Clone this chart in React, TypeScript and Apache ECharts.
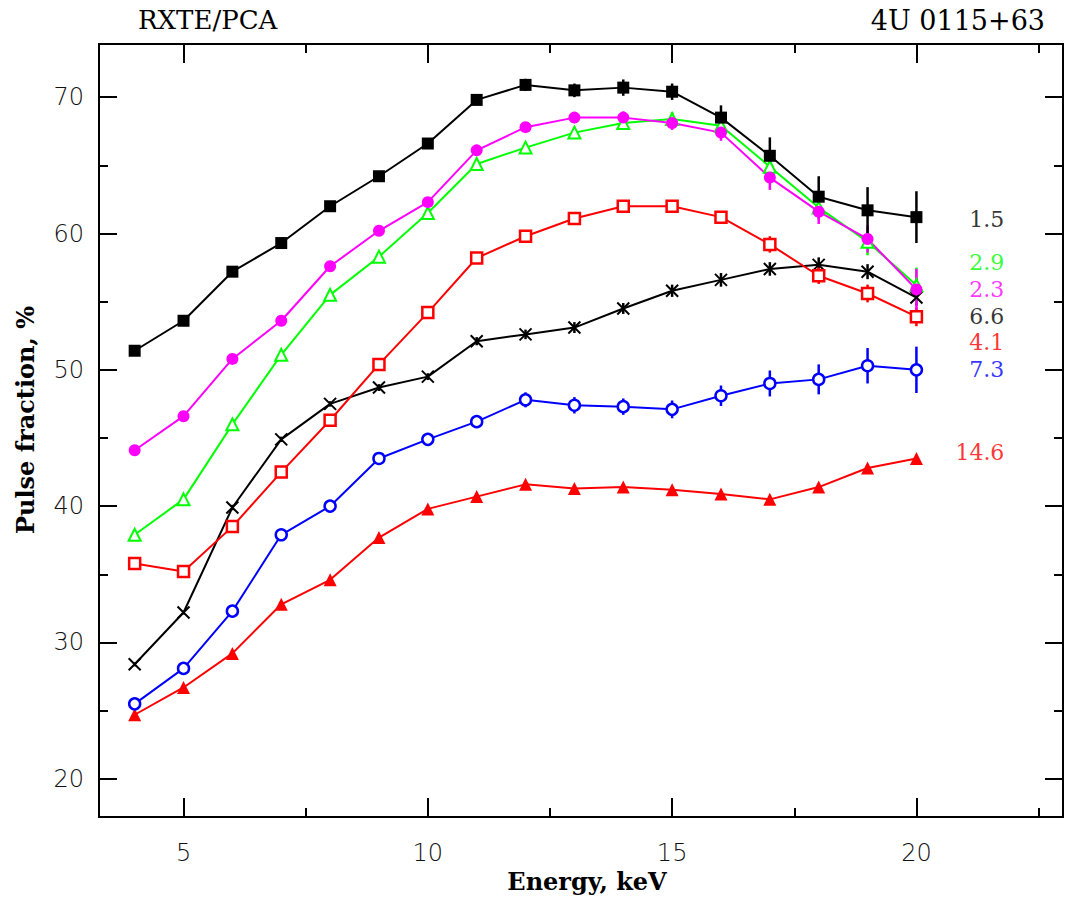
import React, { useEffect, useRef } from "react";
import * as echarts from "echarts";

const energy = [4, 5, 6, 7, 8, 9, 10, 11, 12, 13, 14, 15, 16, 17, 18, 19, 20];

const pf15 = [51.4, 53.6, 57.2, 59.3, 62.0, 64.2, 66.6, 69.8, 70.9, 70.5, 70.7, 70.4, 68.5, 65.7, 62.7, 61.7, 61.2];
const pf15Err = [0.3, 0.3, 0.3, 0.3, 0.3, 0.3, 0.35, 0.4, 0.45, 0.5, 0.6, 0.6, 0.9, 1.35, 1.5, 1.7, 1.9];

const pf23 = [44.1, 46.6, 50.8, 53.6, 57.6, 60.2, 62.3, 66.1, 67.8, 68.5, 68.5, 68.1, 67.4, 64.1, 61.6, 59.6, 55.9];
const pf23Err = [0.2, 0.2, 0.2, 0.2, 0.25, 0.25, 0.3, 0.3, 0.35, 0.4, 0.45, 0.5, 0.6, 0.9, 0.9, 1.0, 1.5];

const pf29 = [37.9, 40.5, 46.0, 51.1, 55.5, 58.3, 61.5, 65.1, 66.3, 67.4, 68.1, 68.4, 67.9, 64.9, 61.9, 59.4, 56.2];
const pf29Err = [0.2, 0.2, 0.2, 0.2, 0.25, 0.25, 0.3, 0.3, 0.35, 0.4, 0.45, 0.5, 0.6, 0.8, 0.9, 1.0, 1.3];

const pf41 = [35.8, 35.2, 38.5, 42.5, 46.3, 50.4, 54.2, 58.2, 59.8, 61.1, 62.0, 62.0, 61.2, 59.2, 56.9, 55.6, 53.9];
const pf41Err = [0.15, 0.15, 0.15, 0.2, 0.2, 0.2, 0.25, 0.25, 0.3, 0.3, 0.35, 0.35, 0.45, 0.6, 0.6, 0.65, 0.7];

const pf66 = [28.4, 32.2, 39.9, 44.9, 47.5, 48.7, 49.5, 52.1, 52.6, 53.1, 54.5, 55.8, 56.6, 57.4, 57.7, 57.2, 55.3];
const pf66Err = [0.15, 0.15, 0.2, 0.2, 0.2, 0.25, 0.25, 0.3, 0.35, 0.4, 0.4, 0.45, 0.5, 0.5, 0.55, 0.55, 0.6];

const pf73 = [25.5, 28.1, 32.3, 37.9, 40.0, 43.5, 44.9, 46.2, 47.8, 47.4, 47.3, 47.1, 48.1, 49.0, 49.3, 50.3, 50.0];
const pf73Err = [0.2, 0.25, 0.25, 0.3, 0.3, 0.3, 0.35, 0.4, 0.55, 0.6, 0.6, 0.65, 0.75, 0.95, 1.1, 1.3, 1.7];

const pf146 = [24.7, 26.7, 29.2, 32.8, 34.6, 37.7, 39.8, 40.7, 41.6, 41.3, 41.4, 41.2, 40.9, 40.5, 41.4, 42.8, 43.5];
const pf146Err = [0.1, 0.1, 0.1, 0.1, 0.1, 0.1, 0.12, 0.12, 0.15, 0.15, 0.15, 0.15, 0.15, 0.2, 0.2, 0.2, 0.2];

const labelNames = ["1.5", "2.9", "2.3", "6.6", "4.1", "7.3", "14.6"];
const labelY = [61.0, 57.9, 55.9, 53.9, 52.0, 50.0, 43.9];
const labelColors = ["#000000", "#00ff00", "#ff00ff", "#000000", "#ff0000", "#0000ff", "#ff0000"];
const LABEL_X = 21.8;

const xMajor = [5, 10, 15, 20];
const xMinor = [7.5, 12.5, 17.5, 22.5];
const yMajor = [20, 30, 40, 50, 60, 70];
const yMinor = [25, 35, 45, 55, 65];

const X_MIN = 3.27;
const X_MAX = 23;
const Y_MIN = 17.2;
const Y_MAX = 73.9;

const TICK_FONT = "'DejaVu Sans', sans-serif";
const SERIF = "'DejaVu Serif', serif";
const XSYM = "path://M0,0L10,10M10,0L0,10";

function xAxisDef(position: string, ticks: number[], len: number, labels: boolean) {
  return {
    type: "value",
    position,
    min: X_MIN,
    max: X_MAX,
    axisLine: { show: false, onZero: false },
    splitLine: { show: false },
    axisTick: { show: true, inside: true, length: len, customValues: ticks, lineStyle: { color: "#000", width: 2 } },
    axisLabel: labels
      ? { show: true, customValues: ticks, margin: 24, fontFamily: TICK_FONT, fontWeight: 200, fontSize: 24, color: "#111" }
      : { show: false },
  };
}

function yAxisDef(position: string, ticks: number[], len: number, labels: boolean) {
  return {
    type: "value",
    position,
    min: Y_MIN,
    max: Y_MAX,
    axisLine: { show: false, onZero: false },
    splitLine: { show: false },
    axisTick: { show: true, inside: true, length: len, customValues: ticks, lineStyle: { color: "#000", width: 2 } },
    axisLabel: labels
      ? { show: true, customValues: ticks, margin: 15, fontFamily: TICK_FONT, fontWeight: 200, fontSize: 24, color: "#111", padding: [12, 0, 0, 0] }
      : { show: false },
  };
}

function lineSeries(name: string, vals: number[], color: string, symbol: string, size: number, fill: string, border: number) {
  return {
    name,
    type: "line",
    data: energy.map((e, i) => [e, vals[i]]),
    symbol,
    symbolSize: size,
    showAllSymbol: true,
    lineStyle: { color, width: 2 },
    itemStyle: { color: fill, borderColor: color, borderWidth: border },
    z: 3,
  };
}

function errSeries(vals: number[], errs: number[], color: string) {
  return {
    type: "custom",
    data: energy.map((e, i) => [e, vals[i] - errs[i], vals[i] + errs[i]]),
    encode: { x: 0, y: [1, 2] },
    renderItem: (params: any, api: any) => {
      const p1 = api.coord([api.value(0), api.value(1)]);
      const p2 = api.coord([api.value(0), api.value(2)]);
      return {
        type: "line",
        shape: { x1: p1[0], y1: p1[1], x2: p2[0], y2: p2[1] },
        style: { stroke: color, lineWidth: 2.5 },
      };
    },
    z: 2,
  };
}

export default function App() {
  const ref = useRef<HTMLDivElement>(null);
  useEffect(() => {
    if (!ref.current) return;
    const chart = echarts.init(ref.current, null, { renderer: "svg" });
    const option: any = {
      animation: false,
      backgroundColor: "#ffffff",
      grid: { left: 99, top: 44, width: 964, height: 773, show: true, borderColor: "#000", borderWidth: 2, backgroundColor: "transparent" },
      xAxis: [
        xAxisDef("bottom", xMajor, 19, true),
        xAxisDef("bottom", xMinor, 9, false),
        xAxisDef("top", xMajor, 19, false),
        xAxisDef("top", xMinor, 9, false),
      ],
      yAxis: [
        yAxisDef("left", yMajor, 18, true),
        yAxisDef("left", yMinor, 9, false),
        yAxisDef("right", yMajor, 18, false),
        yAxisDef("right", yMinor, 9, false),
      ],
      series: [
        errSeries(pf146, pf146Err, "#ff0000"),
        errSeries(pf73, pf73Err, "#0000ff"),
        errSeries(pf66, pf66Err, "#000000"),
        errSeries(pf41, pf41Err, "#ff0000"),
        errSeries(pf29, pf29Err, "#00ff00"),
        errSeries(pf23, pf23Err, "#ff00ff"),
        errSeries(pf15, pf15Err, "#000000"),
        lineSeries("14.6", pf146, "#ff0000", "triangle", 13, "#ff0000", 0),
        lineSeries("7.3", pf73, "#0000ff", "circle", 11, "#ffffff", 2.5),
        lineSeries("6.6", pf66, "#000000", XSYM, 12, "#000000", 2),
        lineSeries("4.1", pf41, "#ff0000", "rect", 11, "#ffffff", 2.5),
        lineSeries("2.9", pf29, "#00ff00", "triangle", 12, "#ffffff", 2),
        lineSeries("2.3", pf23, "#ff00ff", "circle", 12, "#ff00ff", 0),
        lineSeries("1.5", pf15, "#000000", "rect", 12, "#000000", 0),
        {
          type: "scatter",
          symbolSize: 0,
          data: labelNames.map((t, i) => ({
            value: [LABEL_X, labelY[i]],
            label: { show: true, position: "left", distance: 0, formatter: t, color: labelColors[i], fontFamily: SERIF, fontSize: 22 },
          })),
          z: 5,
        },
      ],
      graphic: [
        { type: "text", left: 138, top: 7, style: { text: "RXTE/PCA", fontFamily: SERIF, fontSize: 26, fill: "#000" } },
        { type: "text", right: 24, top: 7, style: { text: "4U 0115+63", fontFamily: SERIF, fontSize: 27, fill: "#000" } },
        { type: "text", x: 587, y: 881, style: { text: "Energy, keV", align: "center", verticalAlign: "middle", fontFamily: SERIF, fontWeight: "bold", fontSize: 24, fill: "#000" } },
        { type: "text", x: 25, y: 420, rotation: Math.PI / 2, style: { text: "Pulse fraction, %", align: "center", verticalAlign: "middle", fontFamily: SERIF, fontWeight: "bold", fontSize: 24, fill: "#000" } },
      ],
    };
    chart.setOption(option);
    return () => chart.dispose();
  }, []);
  return <div ref={ref} style={{ position: "fixed", left: 0, top: 0, width: 1069, height: 906 }} />;
}
